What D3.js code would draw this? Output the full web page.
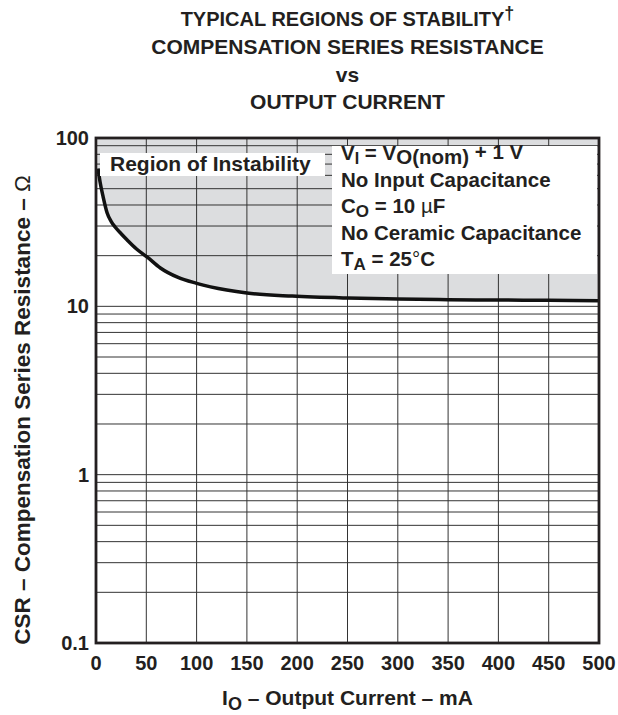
<!DOCTYPE html>
<html>
<head>
<meta charset="utf-8">
<script src="https://cdn.jsdelivr.net/npm/d3@7"></script>
<style>
  html, body { margin: 0; padding: 0; background: #fff; }
  svg { display: block; }
  text { font-family: "Liberation Sans", Arial, Helvetica, sans-serif; font-weight: bold; fill: #231f20; }
</style>
</head>
<body>
<script>
// ---- data ----
const currentMA = [2, 4, 7, 11, 15, 19, 25, 31, 40, 51, 64, 81, 100, 130, 150, 195, 250, 300, 350, 400, 450, 500];
const csrOhm    = [66, 55, 45, 36, 32, 29.6, 27, 24.8, 22, 19.6, 16.9, 14.9, 13.7, 12.5, 12.0, 11.5, 11.2, 11.05, 10.95, 10.9, 10.85, 10.8];
const xTicks = [0, 50, 100, 150, 200, 250, 300, 350, 400, 450, 500];
const yTicks = [0.1, 1, 10, 100];
const yTickLabels = ["0.1", "1", "10", "100"];
const titleLines = ["COMPENSATION SERIES RESISTANCE", "vs", "OUTPUT CURRENT"];

const W = 618, H = 715;
const margin = { left: 96, right: 19, top: 138, bottom: 72 };
const svg = d3.select("body").append("svg").attr("width", W).attr("height", H);

const x = d3.scaleLinear().domain([0, 500]).range([margin.left, W - margin.right]);
const y = d3.scaleLog().domain([0.1, 100]).range([H - margin.bottom, margin.top]);

const pts = currentMA.map((c, i) => [c, csrOhm[i]]);

// shaded region of instability
svg.append("path")
  .datum(pts)
  .attr("fill", "#dcdddf")
  .attr("d", d3.area().x(d => x(d[0])).y0(y(100)).y1(d => y(d[1])).curve(d3.curveMonotoneX));

// grid
const grid = svg.append("g").attr("stroke", "#333").attr("stroke-width", 1);
xTicks.filter(t => t > 0 && t < 500).forEach(t => {
  grid.append("line").attr("x1", x(t)).attr("x2", x(t)).attr("y1", y(0.1)).attr("y2", y(100));
});
const minor = [];
[0.1, 1, 10].forEach(dec => { for (let k = 1; k <= 9; k++) minor.push(dec * k); });
minor.filter(v => v > 0.1).forEach(v => {
  grid.append("line").attr("x1", x(0)).attr("x2", x(500)).attr("y1", y(v)).attr("y2", y(v));
});

// curve
svg.append("path")
  .datum(pts)
  .attr("fill", "none")
  .attr("stroke", "#111")
  .attr("stroke-width", 3.5)
  .attr("d", d3.line().x(d => x(d[0])).y(d => y(d[1])).curve(d3.curveMonotoneX));

// Region of Instability label
svg.append("rect").attr("x", 100).attr("y", 153).attr("width", 225).attr("height", 23).attr("fill", "#fff");
svg.append("text").attr("x", 110).attr("y", 171).attr("font-size", 21).text("Region of Instability");

// conditions box
svg.append("rect").attr("x", 332).attr("y", 146).attr("width", 265).attr("height", 128).attr("fill", "#fff");
const fs = 20.5, lx = 341;
const l1 = svg.append("text").attr("x", lx).attr("y", 160).attr("font-size", fs);
l1.append("tspan").text("V");
l1.append("tspan").attr("dy", 4).attr("font-size", 16).text("I");
l1.append("tspan").attr("dy", -4).text(" = V");
l1.append("tspan").attr("dy", 4).text("O(nom)");
l1.append("tspan").attr("dy", -5).text(" + 1 V");

svg.append("text").attr("x", lx).attr("y", 187).attr("font-size", fs).text("No Input Capacitance");

const l3 = svg.append("text").attr("x", lx).attr("y", 213).attr("font-size", fs);
l3.append("tspan").text("C");
l3.append("tspan").attr("dy", 4).attr("font-size", 17).text("O");
l3.append("tspan").attr("dy", -4).text(" = 10 ");
l3.append("tspan").attr("font-weight", "normal").text("\u00b5");
l3.append("tspan").text("F");

svg.append("text").attr("x", lx).attr("y", 240).attr("font-size", fs).text("No Ceramic Capacitance");

const l5 = svg.append("text").attr("x", lx).attr("y", 266).attr("font-size", fs);
l5.append("tspan").text("T");
l5.append("tspan").attr("dy", 4).attr("font-size", 17).text("A");
l5.append("tspan").attr("dy", -4).text(" = 25");
l5.append("tspan").attr("font-weight", "normal").text("\u00b0");
l5.append("tspan").text("C");

// border
svg.append("rect")
  .attr("x", x(0)).attr("y", y(100))
  .attr("width", x(500) - x(0)).attr("height", y(0.1) - y(100))
  .attr("fill", "none").attr("stroke", "#231f20").attr("stroke-width", 2.8);

// axes tick labels
xTicks.forEach(t => {
  svg.append("text").attr("x", x(t)).attr("y", 670).attr("text-anchor", "middle").attr("font-size", 20).text(t);
});
yTicks.forEach((t, i) => {
  svg.append("text").attr("x", 89).attr("y", y(t) + 7).attr("text-anchor", "end").attr("font-size", 20).text(yTickLabels[i]);
});

// axis titles
const xt = svg.append("text").attr("x", (x(0) + x(500)) / 2).attr("y", 705).attr("text-anchor", "middle").attr("font-size", 21);
xt.append("tspan").text("I");
xt.append("tspan").attr("dy", 5).attr("font-size", 18).text("O");
xt.append("tspan").attr("dy", -5).text(" \u2013 Output Current \u2013 mA");

const yt = svg.append("text")
  .attr("transform", `translate(30,410) rotate(-90)`)
  .attr("text-anchor", "middle").attr("font-size", 22.5);
yt.append("tspan").text("CSR \u2013 Compensation Series Resistance \u2013 ");
yt.append("tspan").attr("font-weight", "normal").text("\u03a9");

// titles
const cx = (x(0) + x(500)) / 2;
const t0 = svg.append("text").attr("x", cx).attr("y", 26).attr("text-anchor", "middle").attr("font-size", 20);
t0.append("tspan").text("TYPICAL REGIONS OF STABILITY");
t0.append("tspan").attr("dy", -7).attr("font-size", 18).text("\u2020");
titleLines.forEach((s, i) => {
  svg.append("text").attr("x", cx).attr("y", 54 + i * 27.5).attr("text-anchor", "middle").attr("font-size", 21).text(s);
});
</script>
</body>
</html>
